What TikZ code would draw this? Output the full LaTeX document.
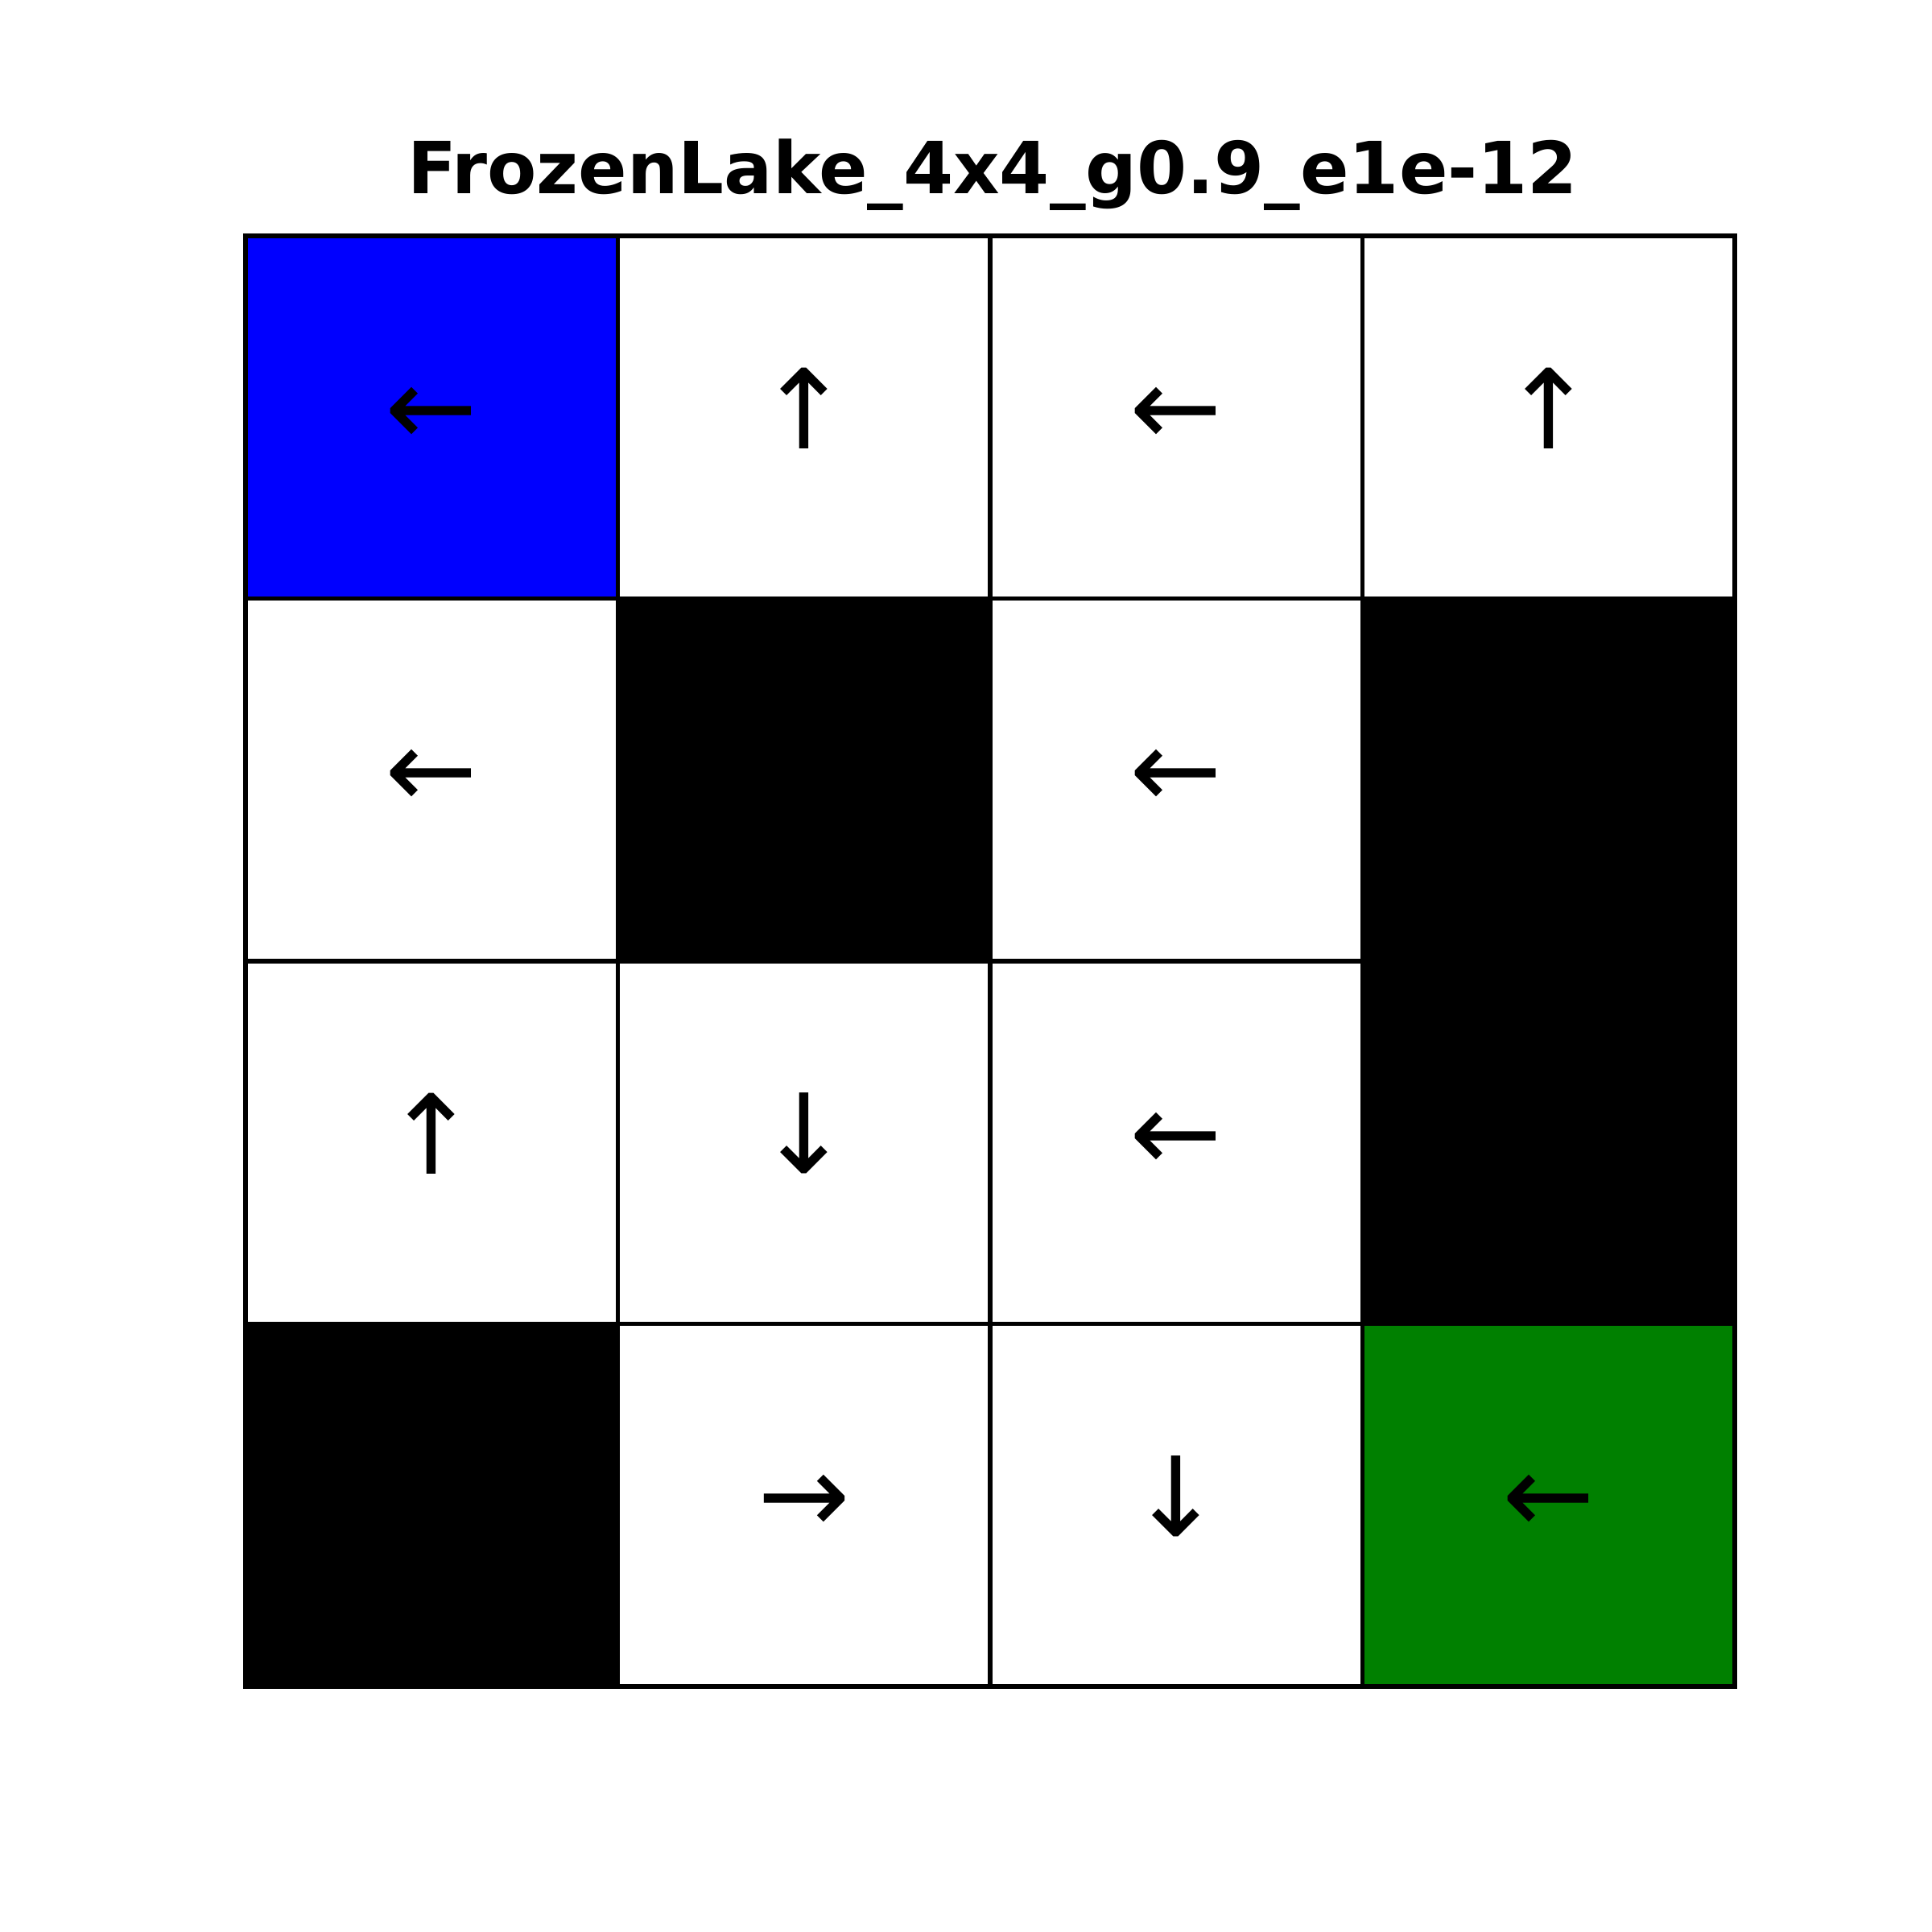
\documentclass[tikz,border=0pt]{standalone}
\usepackage{fontspec}
\setmainfont{DejaVu Sans}
\usetikzlibrary{positioning}

\begin{document}
\begin{tikzpicture}[x=1cm,y=1cm,
		cell/.style={draw=black,line width=1.5pt,minimum width=\W cm,minimum height=\H cm,inner sep=0pt,outer sep=0pt},
		move/.style={font=\fontsize{39}{39}\selectfont,inner sep=0pt},
		titletext/.style={font=\bfseries\fontsize{25.4}{25.4}\selectfont,inner sep=0pt}]
		\pgfmathsetmacro\W{4.625}
		\pgfmathsetmacro\H{4.505}
		\useasboundingbox (0,0) rectangle (24,24);
		\definecolor{start}{RGB}{0,0,255}
		\definecolor{goal}{RGB}{0,128,0}
		% cells: column/row/fill/arrow/lift, row 0 on top
		\foreach \c/\r/\f/\a/\s in {0/0/start/←/0.01, 1/0/white/↑/0.11, 2/0/white/←/0.01, 3/0/white/↑/0.11,
				0/1/white/←/0.01, 1/1/black//0, 2/1/white/←/0.01, 3/1/black//0,
				0/2/white/↑/0.11, 1/2/white/↓/0.11, 2/2/white/←/0.01, 3/2/black//0,
				0/3/black//0, 1/3/white/→/0.01, 2/3/white/↓/0.11, 3/3/goal/←/0.01}{
			\node[cell,fill=\f] (c\r\c) at ({3.05+(\c+0.5)*\W},{21.07-(\r+0.5)*\H}) {};
			\node[move,yshift=\s cm] (a\r\c) at (c\r\c) {\a};
		}
		\node[titletext,anchor=base] (title) at (12.33,21.59) {FrozenLake\_4x4\_g0.9\_e1e-12};
		\end{tikzpicture}
\end{document}
